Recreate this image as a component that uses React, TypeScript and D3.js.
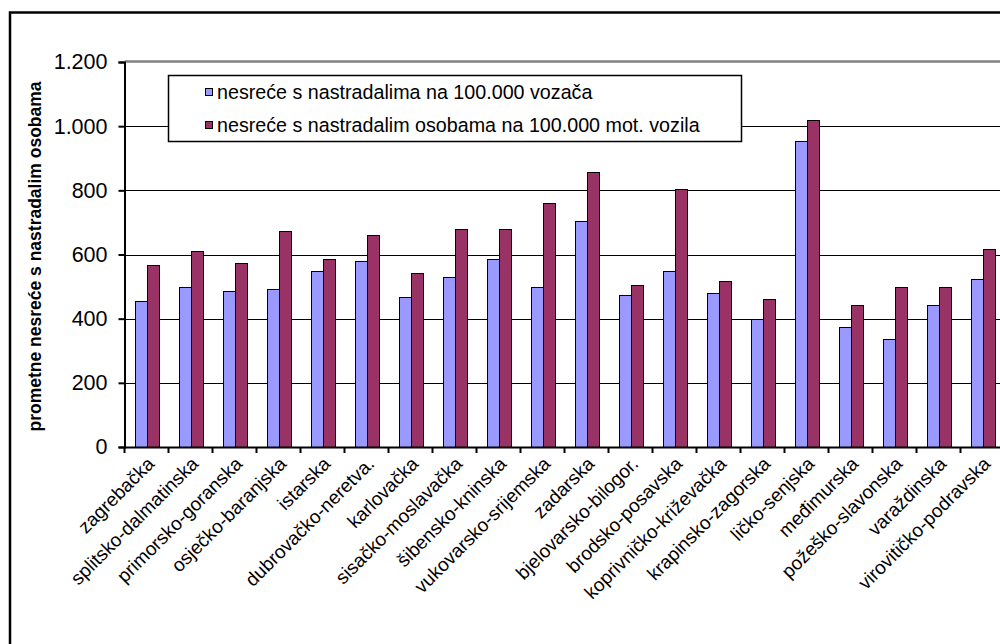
import React, { useEffect, useRef } from 'react';
import * as d3 from 'd3';

const categories: string[] = [
  'zagrebačka', 'splitsko-dalmatinska', 'primorsko-goranska', 'osječko-baranjska',
  'istarska', 'dubrovačko-neretva.', 'karlovačka', 'sisačko-moslavačka',
  'šibensko-kninska', 'vukovarsko-srijemska', 'zadarska', 'bjelovarsko-bilogor.',
  'brodsko-posavska', 'koprivničko-križevačka', 'krapinsko-zagorska', 'ličko-senjska',
  'međimurska', 'požeško-slavonska', 'varaždinska', 'virovitičko-podravska',
];

const seriesNames: string[] = [
  'nesreće s nastradalima na 100.000 vozača',
  'nesreće s nastradalim osobama na 100.000 mot. vozila',
];

const perDrivers: number[] = [456, 498, 487, 492, 549, 580, 467, 530, 585, 498, 703, 474, 549, 480, 399, 954, 374, 337, 443, 524];
const perVehicles: number[] = [567, 611, 575, 672, 586, 661, 542, 679, 679, 760, 858, 505, 803, 517, 461, 1019, 443, 498, 498, 616];

const yTicks: number[] = [0, 200, 400, 600, 800, 1000, 1200];
const colors: string[] = ['#9999ff', '#993366'];

const FONT = '"Liberation Sans", Arial, sans-serif';

const App: React.FC = () => {
  const ref = useRef<SVGSVGElement | null>(null);

  useEffect(() => {
    if (!ref.current) return;
    const svg = d3.select(ref.current);
    svg.selectAll('*').remove();

    const left = 124.5;
    const top = 62;
    const bottom = 447;
    const right = left + 44 * categories.length;

    const x = d3.scaleBand<string>().domain(categories).range([left, right]).padding(0);
    const xs = d3.scaleBand<number>().domain([0, 1]).range([0, x.bandwidth()]).paddingInner(0).paddingOuter(0.84);
    const y = d3.scaleLinear().domain([0, 1200]).range([bottom, top]);
    const fmt = d3.formatLocale({ decimal: ',', thousands: '.', grouping: [3], currency: ['', ''] }).format(',');

    // outer chart frame
    svg.append('rect')
      .attr('x', 10).attr('y', 12.5).attr('width', 1100).attr('height', 700)
      .attr('fill', 'white').attr('stroke', 'black').attr('stroke-width', 2.5);

    // gridlines
    svg.append('g').selectAll('line')
      .data(yTicks.filter(t => t > 0 && t < 1200))
      .enter().append('line')
      .attr('x1', left).attr('x2', right)
      .attr('y1', d => Math.round(y(d)) + 0.5).attr('y2', d => Math.round(y(d)) + 0.5)
      .attr('stroke', 'black').attr('stroke-width', 1);

    // plot area top border
    svg.append('line')
      .attr('x1', left).attr('x2', right)
      .attr('y1', y(1200) - 0.5).attr('y2', y(1200) - 0.5)
      .attr('stroke', '#808080').attr('stroke-width', 2.5);

    // bars
    const series = [perDrivers, perVehicles];
    series.forEach((vals, si) => {
      svg.append('g').selectAll('rect')
        .data(vals)
        .enter().append('rect')
        .attr('x', (d, i) => Math.round(x(categories[i])! + xs(si)!) + 0.5)
        .attr('y', d => Math.round(y(d)) + 0.5)
        .attr('width', Math.round(xs.bandwidth()))
        .attr('height', d => Math.round(bottom - y(d)))
        .attr('fill', colors[si])
        .attr('stroke', 'black').attr('stroke-width', 1);
    });

    // y axis
    const yAxis = svg.append('g')
      .attr('transform', `translate(${left},0)`)
      .call(d3.axisLeft(y).tickValues(yTicks).tickSize(6).tickPadding(11).tickFormat(d => fmt(d as number)));
    yAxis.select('.domain').attr('stroke', 'black').attr('stroke-width', 2);
    yAxis.selectAll('.tick line').attr('stroke', 'black').attr('stroke-width', 2);
    yAxis.selectAll('text').attr('font-family', FONT).attr('font-size', 21.5).attr('fill', 'black');

    // x axis
    const xAxis = svg.append('g')
      .attr('transform', `translate(0,${bottom})`)
      .call(d3.axisBottom(x).tickSize(0).tickFormat(() => ''));
    xAxis.select('.domain').attr('stroke', 'black').attr('stroke-width', 2);
    svg.append('g').selectAll('line')
      .data(d3.range(categories.length + 1))
      .enter().append('line')
      .attr('x1', i => left + i * x.step()).attr('x2', i => left + i * x.step())
      .attr('y1', bottom).attr('y2', bottom + 6)
      .attr('stroke', 'black').attr('stroke-width', 2);

    svg.append('g').selectAll('text')
      .data(categories)
      .enter().append('text')
      .attr('transform', d => `translate(${x(d)! + x.bandwidth() / 2 + 9},${bottom + 18}) rotate(-45)`)
      .attr('text-anchor', 'end')
      .attr('font-family', FONT).attr('font-size', 19)
      .text(d => d);

    // y axis title
    svg.append('text')
      .attr('transform', `translate(41,${(top + bottom) / 2 + 2}) rotate(-90)`)
      .attr('text-anchor', 'middle')
      .attr('font-family', FONT).attr('font-size', 17.5).attr('font-weight', 'bold')
      .text('prometne nesreće s nastradalim osobama');

    // legend
    const lg = svg.append('g');
    lg.append('rect')
      .attr('x', 168.5).attr('y', 75.5).attr('width', 573).attr('height', 66)
      .attr('fill', 'white').attr('stroke', 'black').attr('stroke-width', 1.5);
    seriesNames.forEach((name, i) => {
      const cy = 92 + i * 33;
      lg.append('rect')
        .attr('x', 205.5).attr('y', cy - 3.5).attr('width', 7).attr('height', 7)
        .attr('fill', colors[i]).attr('stroke', 'black').attr('stroke-width', 1);
      lg.append('text')
        .attr('x', 217).attr('y', cy + 7)
        .attr('font-family', FONT).attr('font-size', 19.7)
        .text(name);
    });
  }, []);

  return (
    <svg ref={ref} width={1000} height={644} style={{ position: 'absolute', left: 0, top: 0, background: 'white' }} />
  );
};

export default App;
